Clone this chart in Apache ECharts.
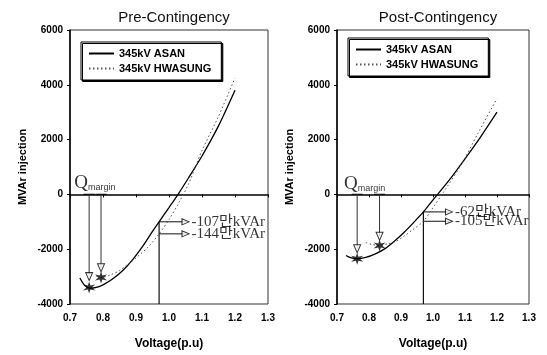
<!DOCTYPE html>
<html>
<head>
<meta charset="utf-8">
<script src="https://cdn.jsdelivr.net/npm/echarts@6/dist/echarts.min.js"></script>
<style>
  html, body { margin: 0; padding: 0; background: #fff; }
  #chart { width: 547px; height: 355px; }
</style>
</head>
<body>
<div id="chart"></div>
<script>
// QV curves (voltage p.u, MVAr)
const preAsanV = [0.73, 0.745, 0.76, 0.78, 0.80, 0.83, 0.86, 0.89, 0.92, 0.95, 0.97, 1.00, 1.03, 1.06, 1.10, 1.15, 1.20];
const preAsanQ = [-3050, -3330, -3420, -3390, -3300, -3080, -2780, -2380, -1900, -1350, -1000, -480, 50, 620, 1400, 2500, 3800];
const preHwaV = [0.78, 0.795, 0.82, 0.85, 0.87, 0.90, 0.94, 0.97, 1.00, 1.03, 1.06, 1.10, 1.15, 1.20];
const preHwaQ = [-2990, -3030, -2950, -2780, -2600, -2320, -1880, -1440, -920, -300, 400, 1600, 2850, 4250];

const postAsanV = [0.728, 0.745, 0.763, 0.79, 0.82, 0.85, 0.88, 0.91, 0.94, 0.97, 1.00, 1.05, 1.11, 1.15, 1.20];
const postAsanQ = [-2230, -2320, -2350, -2300, -2170, -1980, -1700, -1380, -1020, -640, -200, 510, 1460, 2120, 3000];
const postHwaV = [0.79, 0.81, 0.833, 0.86, 0.88, 0.91, 0.935, 0.97, 1.00, 1.03, 1.09, 1.14, 1.20];
const postHwaQ = [-1760, -1830, -1865, -1800, -1740, -1520, -1300, -980, -480, 30, 1120, 2220, 3500];

// annotations
const preStarV = [0.758, 0.794];
const preStarQ = [-3400, -3030];
const preTipQ = [-3000, -2680];
const preCrossQ = [-1000, -1440];
const preLabels = ['-107만kVAr', '-144만kVAr'];

const postStarV = [0.763, 0.833];
const postStarQ = [-2350, -1865];
const postTipQ = [-1985, -1525];
const postCrossQ = [-640, -980];
const postLabels = ['-62만kVAr', '-105만kVAr'];

const crossV = 0.97;
const arrowEndV = 1.05;
const barHalf = 0.017;
const qLabelPre = [0.713, 430];
const qLabelPost = [0.722, 365];

const titles = ['Pre-Contingency', 'Post-Contingency'];
const seriesNames = ['345kV ASAN', '345kV HWASUNG'];

const zip = (a, b) => a.map((v, i) => [v, b[i]]);

function starPath(n, r1, r2) {
  let d = '';
  for (let i = 0; i < 2 * n; i++) {
    const r = i % 2 ? r2 : r1;
    const a = Math.PI * i / n - Math.PI / 2;
    d += (i ? 'L' : 'M') + (r * Math.cos(a)).toFixed(2) + ',' + (r * Math.sin(a)).toFixed(2);
  }
  return 'path://' + d + 'Z';
}
const STAR = starPath(6, 10, 3.8);

const sans = '"Liberation Sans", Arial, sans-serif';
const serif = '"Liberation Serif", "Noto Sans CJK KR", serif';

const chart = echarts.init(document.getElementById('chart'));

function segment(idx, pts, color, width) {
  return {
    type: 'line', xAxisIndex: idx, yAxisIndex: idx, data: pts, symbol: 'none', silent: true,
    lineStyle: { color: color || '#111', width: width || 1 }, z: 3,
  };
}

function panelSeries(idx, asanV, asanQ, hwaV, hwaQ, starV, starQ, tipQ, crossQ, labels, qPos) {
  const s = [];
  s.push({
    name: seriesNames[0], type: 'line', xAxisIndex: idx, yAxisIndex: idx,
    data: zip(asanV, asanQ), smooth: 0.3, symbol: 'none',
    lineStyle: { color: '#000', width: 1.3 }, itemStyle: { color: '#000' }, z: 4,
  });
  s.push({
    name: seriesNames[1], type: 'line', xAxisIndex: idx, yAxisIndex: idx,
    data: zip(hwaV, hwaQ), smooth: 0.3, symbol: 'none',
    lineStyle: { color: '#555', width: 1, type: [1.5, 2.5] }, itemStyle: { color: '#555' }, z: 4,
  });
  // Q margin bars and down arrows
  starV.forEach((v, i) => {
    s.push(segment(idx, [[v - barHalf, 0], [v + barHalf, 0]], '#111', 1.2));
    s.push(segment(idx, [[v, 0], [v, tipQ[i]]], '#333', 1));
  });
  s.push({
    type: 'scatter', xAxisIndex: idx, yAxisIndex: idx, silent: true, z: 6,
    data: zip(starV, tipQ), symbol: 'triangle', symbolSize: [7, 8], symbolRotate: 180,
    itemStyle: { color: '#fff', borderColor: '#000', borderWidth: 1 },
  });
  s.push({
    type: 'scatter', xAxisIndex: idx, yAxisIndex: idx, silent: true, z: 6,
    data: zip(starV, starQ), symbol: STAR, symbolSize: 12,
    itemStyle: { color: '#000' },
  });
  // vertical line at operating voltage and horizontal arrows
  s.push(segment(idx, [[crossV, -4000], [crossV, crossQ[0]]], '#111', 1.2));
  crossQ.forEach((q) => s.push(segment(idx, [[crossV, q], [arrowEndV, q]], '#111', 1)));
  s.push({
    type: 'scatter', xAxisIndex: idx, yAxisIndex: idx, silent: true, z: 6,
    data: crossQ.map((q, i) => ({ value: [arrowEndV, q], label: { formatter: labels[i] } })),
    symbol: 'triangle', symbolSize: [6, 7], symbolRotate: -90,
    itemStyle: { color: '#fff', borderColor: '#000', borderWidth: 1 },
    label: { show: true, position: 'right', distance: 2, color: '#000', fontFamily: serif, fontSize: 15 },
  });
  // Q margin text
  s.push({
    type: 'scatter', xAxisIndex: idx, yAxisIndex: idx, silent: true, symbolSize: 0, z: 6,
    data: [qPos],
    label: {
      show: true, position: 'right', distance: 0, formatter: '{q|Q}{m|margin}',
      rich: {
        q: { fontFamily: serif, fontSize: 19, color: '#000' },
        m: { fontFamily: sans, fontSize: 9, color: '#000', padding: [9, 0, 0, 0] },
      },
    },
  });
  return s;
}

const grids = [
  { left: 70, top: 30, width: 198, height: 276 },
  { left: 337, top: 30, width: 192, height: 274 },
];

const axisText = { color: '#000', fontFamily: sans, fontSize: 10, fontWeight: 'bold' };

chart.setOption({
  animation: false,
  backgroundColor: '#fff',
  title: titles.map((t, i) => ({
    text: t, left: grids[i].left + grids[i].width / 2, top: 5, textAlign: 'center',
    textStyle: { color: '#111', fontFamily: sans, fontSize: 15, fontWeight: 'normal' },
  })),
  legend: [
    { left: 81, top: 42 },
    { left: 348, top: 38 },
  ].map((p) => ({
    ...p, orient: 'vertical', data: seriesNames, itemWidth: 25, itemHeight: 10, itemGap: 4,
    padding: [6, 10, 6, 7], borderColor: '#000', borderWidth: 1, backgroundColor: '#fff',
    shadowColor: '#000', shadowOffsetX: 1.5, shadowOffsetY: 1.5, shadowBlur: 0,
    itemStyle: { opacity: 0 },
    textStyle: { color: '#000', fontFamily: sans, fontSize: 11, fontWeight: 'bold' },
    selectedMode: false,
  })),
  grid: grids.map((g) => ({ ...g, show: true, borderColor: '#333', borderWidth: 1 })),
  xAxis: grids.map((g, i) => ({
    type: 'value', gridIndex: i, min: 0.7, max: 1.3, interval: 0.1,
    name: 'Voltage(p.u)', nameLocation: 'middle', nameGap: 34,
    nameTextStyle: { color: '#000', fontFamily: sans, fontSize: 12, fontWeight: 'bold' },
    axisLine: { lineStyle: { color: '#000', width: 1.5 } },
    axisTick: { length: 3, lineStyle: { color: '#000' } },
    axisLabel: { ...axisText, margin: 9, formatter: (v) => v.toFixed(1) },
    splitLine: { show: false },
  })),
  yAxis: grids.map((g, i) => ({
    type: 'value', gridIndex: i, min: -4000, max: 6000, interval: 2000,
    name: 'MVAr injection', nameLocation: 'middle', nameGap: 42,
    nameTextStyle: { color: '#000', fontFamily: sans, fontSize: 11, fontWeight: 'bold' },
    axisLine: { show: true, lineStyle: { color: '#000', width: 1.5 } },
    axisTick: { show: true, length: 3, lineStyle: { color: '#000' } },
    axisLabel: { ...axisText, margin: 7, formatter: (v) => String(v) },
    splitLine: { show: false },
  })),
  series: [
    ...panelSeries(0, preAsanV, preAsanQ, preHwaV, preHwaQ, preStarV, preStarQ, preTipQ, preCrossQ, preLabels, qLabelPre),
    ...panelSeries(1, postAsanV, postAsanQ, postHwaV, postHwaQ, postStarV, postStarQ, postTipQ, postCrossQ, postLabels, qLabelPost),
  ],
});
</script>
</body>
</html>
